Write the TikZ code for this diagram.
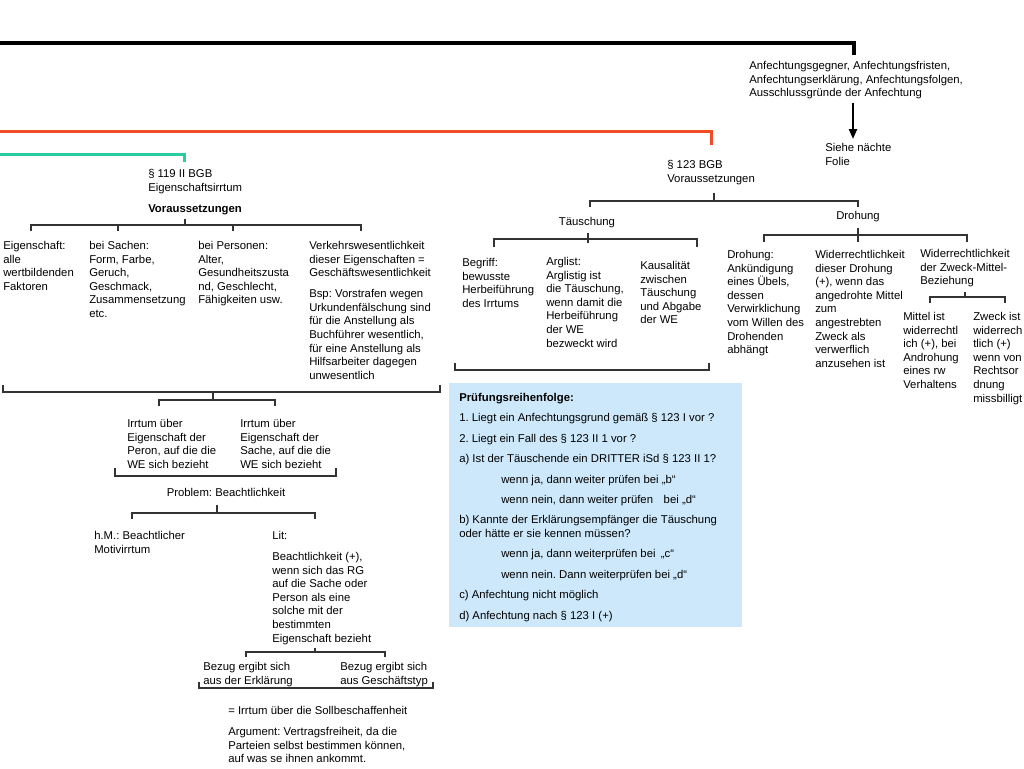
\documentclass[tikz,border=0pt]{standalone}
\usepackage{fontspec}
\setmainfont{Liberation Sans}
\usetikzlibrary{arrows.meta}
\newlength{\du}
\setlength{\du}{0.75pt}
\definecolor{rotlinie}{rgb}{0.94,0.30,0.15}
\definecolor{tuerkislinie}{rgb}{0.16,0.80,0.62}
\definecolor{kastenblau}{rgb}{0.80,0.91,0.98}
\tikzset{
  txt/.style={anchor=north west, align=left, inner sep=0pt, font=\fontsize{8.5}{10.2}\selectfont\frenchspacing},
  txtmitte/.style={txt, anchor=north},
  ast/.style={draw=black!80, line width=1.2\du},
  dick/.style={line width=3\du, line join=miter},
  pfeil/.style={line width=2.2\du, -{Triangle[length=7.5pt,width=6pt]}, shorten >=3pt},
}
\begin{document}
\begin{tikzpicture}
\pgftransformxscale{1.000000}
\pgftransformyscale{-1.000000}
\useasboundingbox (0\du,0\du) rectangle (1024\du,768\du);
% farbige Linien oben
\coordinate (schwarzA) at (0\du,43\du);
\coordinate (schwarzB) at (854\du,55\du);
\draw[dick, line width=4\du] (schwarzA) -| (schwarzB);
\coordinate (rotA) at (0\du,131\du);
\coordinate (rotB) at (711\du,145\du);
\draw[dick, draw=rotlinie] (rotA) -| (rotB);
\coordinate (tuerkisA) at (0\du,154\du);
\coordinate (tuerkisB) at (184\du,162\du);
\draw[dick, draw=tuerkislinie] (tuerkisA) -| (tuerkisB);
\node[txt] (anfgegner) at (749\du,61\du) {Anfechtungsgegner, Anfechtungsfristen,\\Anfechtungserklärung, Anfechtungsfolgen,\\Ausschlussgründe der Anfechtung};
\node[txt] (siehe) at (825\du,143\du) {Siehe nächte\\Folie};
\coordinate (pfeilStart) at (853\du,103\du);
\draw[pfeil] (pfeilStart) -- (pfeilStart |- siehe.north);
% 119 II BGB
\node[txt] (bgb119) at (148\du,169\du) {§ 119 II BGB\\Eigenschaftsirrtum};
\node[txt] (vor119) at (148\du,204\du) {\bfseries Voraussetzungen};
\coordinate (vorStamm) at (185\du,219\du);
\coordinate (eigT) at (31\du,231\du);
\coordinate (sachenT) at (118\du,231\du);
\coordinate (personenT) at (233\du,231\du);
\coordinate (verkehrT) at (361\du,231\du);
\draw[ast] (vorStamm) -- ++(0,6\du);
\draw[ast] (eigT) -- ++(0,-6\du) -| (verkehrT);
\foreach \t in {sachenT,personenT}
  \draw[ast] (\t) -- ++(0,-6\du);
\node[txt] (eig) at (3\du,241\du) {Eigenschaft:\\alle\\wertbildenden\\Faktoren};
\node[txt] (sachen) at (89\du,241\du) {bei Sachen:\\Form, Farbe,\\Geruch,\\Geschmack,\\Zusammensetzung\\etc.};
\node[txt] (personen) at (198\du,241\du) {bei Personen:\\Alter,\\Gesundheitszusta\\nd, Geschlecht,\\Fähigkeiten usw.};
\node[txt] (verkehr) at (309\du,241\du) {Verkehrswesentlichkeit\\dieser Eigenschaften =\\Geschäftswesentlichkeit\\[5.5pt]Bsp: Vorstrafen wegen\\Urkundenfälschung sind\\für die Anstellung als\\Buchführer wesentlich,\\für eine Anstellung als\\Hilfsarbeiter dagegen\\unwesentlich};
\coordinate (allL) at (3\du,385\du);
\coordinate (allR) at (440\du,385\du);
\coordinate (allStamm) at (213\du,392\du);
\draw[ast] (allL) -- ++(0,7\du) -| (allR);
\draw[ast] (allStamm) -- ++(0,8\du);
\coordinate (irrPT) at (159\du,406\du);
\coordinate (irrST) at (275\du,406\du);
\draw[ast] (irrPT) -- ++(0,-6\du) -| (irrST);
\node[txt] (irrperson) at (127\du,419\du) {Irrtum über\\Eigenschaft der\\Peron, auf die die\\WE sich bezieht};
\node[txt] (irrsache) at (240\du,419\du) {Irrtum über\\Eigenschaft der\\Sache, auf die die\\WE sich bezieht};
\coordinate (irrL) at (115\du,468\du);
\coordinate (irrR) at (336\du,468\du);
\draw[ast] (irrL) -- ++(0,8\du) -| (irrR);
\node[txtmitte] (problem) at (226\du,488\du) {Problem: Beachtlichkeit};
\coordinate (probStamm) at (217\du,505\du);
\coordinate (hmT) at (132\du,519\du);
\coordinate (litT) at (315\du,519\du);
\draw[ast] (probStamm) -- ++(0,8\du);
\draw[ast] (hmT) -- ++(0,-6\du) -| (litT);
\node[txt] (hm) at (94\du,531\du) {h.M.: Beachtlicher\\Motivirrtum};
\node[txt] (lit) at (272\du,531\du) {Lit:\\[5.5pt]Beachtlichkeit (+),\\wenn sich das RG\\auf die Sache oder\\Person als eine\\solche mit der\\bestimmten\\Eigenschaft bezieht};
\coordinate (litStamm) at (315\du,648\du);
\coordinate (erklT) at (246\du,657\du);
\coordinate (geschT) at (385\du,657\du);
\draw[ast] (litStamm) -- ++(0,4\du);
\draw[ast] (erklT) -- ++(0,-5\du) -| (geschT);
\node[txt] (bezerkl) at (203\du,662\du) {Bezug ergibt sich\\aus der Erklärung};
\node[txt] (bezgesch) at (340\du,662\du) {Bezug ergibt sich\\aus Geschäftstyp};
\coordinate (bezL) at (199\du,682\du);
\coordinate (bezR) at (433\du,682\du);
\draw[ast] (bezL) -- ++(0,6\du) -| (bezR);
\node[txt] (soll) at (228\du,706\du) {= Irrtum über die Sollbeschaffenheit};
\node[txt] (argument) at (228\du,727\du) {Argument: Vertragsfreiheit, da die\\Parteien selbst bestimmen können,\\auf was se ihnen ankommt.};
% 123 BGB
\node[txt] (bgb123) at (667\du,160\du) {§ 123 BGB\\Voraussetzungen};
\coordinate (b123Stamm) at (714\du,193\du);
\coordinate (taeuT) at (590\du,207\du);
\coordinate (drohT) at (858\du,207\du);
\draw[ast] (b123Stamm) -- ++(0,8\du);
\draw[ast] (taeuT) -- ++(0,-6\du) -| (drohT);
\node[txtmitte] (taeuschung) at (587\du,217\du) {Täuschung};
\node[txtmitte] (drohung) at (858\du,211\du) {Drohung};
\coordinate (taeuStamm) at (588\du,233\du);
\coordinate (begriffT) at (494\du,247\du);
\coordinate (kausalT) at (697\du,247\du);
\draw[ast] (taeuStamm) -- ++(0,10\du);
\draw[ast] (begriffT) -- ++(0,-8\du) -| (kausalT);
\coordinate (drohStamm) at (858\du,228\du);
\coordinate (drohbT) at (764\du,242\du);
\coordinate (zweckmT) at (967\du,242\du);
\draw[ast] (drohStamm) -- ++(0,14\du);
\draw[ast] (drohbT) -- ++(0,-7\du) -| (zweckmT);
\node[txt] (begriff) at (462\du,258\du) {Begriff:\\bewusste\\Herbeiführung\\des Irrtums};
\node[txt] (arglist) at (546\du,257\du) {Arglist:\\Arglistig ist\\die Täuschung,\\wenn damit die\\Herbeiführung\\der WE\\bezweckt wird};
\node[txt] (kausal) at (640\du,261\du) {Kausalität\\zwischen\\Täuschung\\und Abgabe\\der WE};
\node[txt] (drohbegriff) at (727\du,250\du) {Drohung:\\Ankündigung\\eines Übels,\\dessen\\Verwirklichung\\vom Willen des\\Drohenden\\abhängt};
\node[txt] (widerdroh) at (815\du,250\du) {Widerrechtlichkeit\\dieser Drohung\\(+), wenn das\\angedrohte Mittel\\zum\\angestrebten\\Zweck als\\verwerflich\\anzusehen ist};
\node[txt] (zweckmittel) at (920\du,249\du) {Widerrechtlichkeit\\der Zweck-Mittel-\\Beziehung};
\coordinate (zmStamm) at (965\du,292\du);
\coordinate (mittelT) at (930\du,303\du);
\coordinate (zweckT) at (1005\du,303\du);
\draw[ast] (zmStamm) -- ++(0,5\du);
\draw[ast] (mittelT) -- ++(0,-6\du) -| (zweckT);
\node[txt] (mittel) at (903\du,312\du) {Mittel ist\\widerrechtl\\ich (+), bei\\Androhung\\eines rw\\Verhaltens};
\node[txt] (zweck) at (973\du,312\du) {Zweck ist\\widerrech\\tlich (+)\\wenn von\\Rechtsor\\dnung\\missbilligt};
\coordinate (tcolL) at (455\du,363\du);
\coordinate (tcolR) at (709\du,363\du);
\draw[ast] (tcolL) -- ++(0,7\du) -| (tcolR);
% Pruefungsreihenfolge
\node[fill=kastenblau, anchor=north west, minimum width=293\du, minimum height=244\du, inner sep=0pt] (kasten) at (449\du,383\du) {};
\node[txt] (pruefung) at (459\du,393\du) {\textbf{Prüfungsreihenfolge:}\\[5.1pt]
1. Liegt ein Anfechtungsgrund gemäß § 123 I vor ?\\[5.1pt]
2. Liegt ein Fall des § 123 II 1 vor ?\\[5.1pt]
a) Ist der Täuschende ein DRITTER iSd § 123 II 1?\\[5.1pt]
\hspace*{31.5pt}wenn ja, dann weiter prüfen bei „b“\\[5.1pt]
\hspace*{31.5pt}wenn nein, dann weiter prüfen\hspace{8pt}bei „d“\\[5.1pt]
b) Kannte der Erklärungsempfänger die Täuschung\\
oder hätte er sie kennen müssen?\\[5.1pt]
\hspace*{31.5pt}wenn ja, dann weiterprüfen bei\hspace{4pt}„c“\\[5.1pt]
\hspace*{31.5pt}wenn nein. Dann weiterprüfen bei „d“\\[5.1pt]
c) Anfechtung nicht möglich\\[5.1pt]
d) Anfechtung nach § 123 I (+)};
\end{tikzpicture}
\end{document}
